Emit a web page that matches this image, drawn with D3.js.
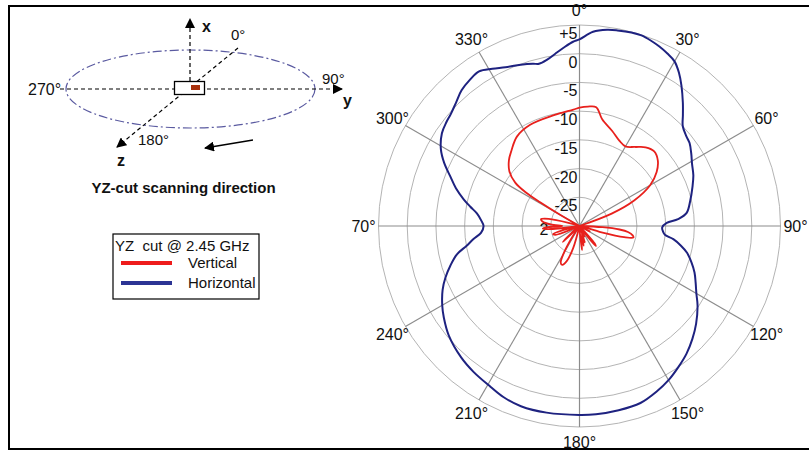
<!DOCTYPE html>
<html>
<head>
<meta charset="utf-8">
<script src="https://cdn.jsdelivr.net/npm/d3@7/dist/d3.min.js"></script>
<style>
  html, body { margin: 0; padding: 0; background: #fff; }
  svg { display: block; font-family: "Liberation Sans", Arial, sans-serif; }
</style>
</head>
<body>
<svg id="chart" width="809" height="451"></svg>
<script>
// ---- Radiation pattern, YZ cut @ 2.45 GHz (gain in dB vs. angle in degrees) ----
const horizontalAngles = [0, 4, 8, 11, 15, 18, 21, 24, 27, 30, 33, 36, 40, 43, 46, 50, 53, 57, 61, 66, 71, 77, 83, 86, 88, 91, 94, 96, 98, 101, 104, 108, 112, 116, 120, 124, 130, 135, 140, 145, 150, 155, 161, 168, 175, 180, 190, 198, 204, 209, 216, 222, 230, 236, 240, 245, 249, 253, 257, 260, 263, 266, 270, 273, 277, 280, 283, 287, 291, 295, 299, 304, 308, 311, 315, 319, 323, 327, 331, 335, 340, 344, 346, 349, 352, 355, 358];
const horizontalValues = [2.5, 3.9, 4.5, 4.7, 4.9, 4.9, 4.6, 4.2, 3.7, 3.1, 1.8, 0.2, -2.0, -3.6, -5.0, -5.7, -6.0, -6.8, -7.6, -8.3, -9.2, -10.2, -11.2, -12.8, -14.8, -15.6, -15.4, -15.0, -13.5, -12.0, -10.7, -9.5, -8.4, -7.5, -6.5, -5.2, -3.5, -2.2, -1.0, 0.0, 1.0, 1.8, 2.6, 2.8, 2.9, 2.9, 3.0, 3.0, 2.6, 2.0, 1.4, 0.8, -0.3, -1.5, -2.4, -3.7, -5.0, -6.5, -8.1, -10.0, -11.4, -12.8, -13.3, -12.9, -12.0, -10.7, -9.3, -7.5, -5.9, -4.0, -2.4, -1.1, -0.6, -0.3, 0.4, 1.3, 1.8, 2.1, 1.3, 0.5, -0.1, -0.6, -0.9, -0.5, 0.3, 1.2, 2.1];

const verticalAngles = [298, 300, 301, 302, 304, 308, 313, 318, 325, 334, 347, 357, 360, 364, 368, 372, 379, 385, 390, 395, 400, 405, 410, 415, 420, 425, 429, 432,
  450, 453, 455, 457, 460, 462, 464, 466, 468, 478, 480, 496, 499, 501, 503, 505, 510, 515, 518, 522, 525, 528, 531, 534, 537, 540,
  550, 556, 560, 564, 567, 570, 573, 576, 582, 586, 589, 592, 605, 610, 613, 616, 618, 622, 624, 626, 628, 630, 633, 637, 640, 643, 646, 649, 658];
const verticalValues = [-30, -26, -22, -19, -16.5, -14.5, -13.2, -12.3, -11.0, -10.4, -10.2, -9.7, -9.4, -9.15, -9.1, -11.0, -12.5, -13.6, -14.0, -13.2, -12.1, -11.6, -12.2, -13.6, -15.8, -19.5, -24, -30,
  -30, -26, -23, -21.5, -20.6, -20.4, -22, -26, -30, -28, -30, -30, -26, -25.5, -28, -30, -30, -28, -29.5, -27, -28.5, -26.5, -28, -25.8, -29, -30,
  -30, -26, -23.5, -22.6, -22.8, -24.5, -27.5, -30, -30, -26, -28, -30, -30, -25.5, -25.2, -27, -30, -30, -25, -23.6, -24.5, -27, -25, -23.5, -23.2, -24.5, -28, -30, -30];

const ringValues = [-25, -20, -15, -10, -5, 0, 5];
const ringLabels = ["-25", "-20", "-15", "-10", "-5", "0", "+5"];
const spokeAngles = [0, 30, 60, 90, 120, 150, 180, 210, 240, 270, 300, 330];
const spokeLabels = ["0°", "30°", "60°", "90°", "120°", "150°", "180°", "210°", "240°", "70°", "300°", "330°"];

const legendTitle = "YZ  cut @ 2.45 GHz";
const seriesNames = ["Vertical", "Horizontal"];
const seriesColors = ["#e8201c", "#1e2280"];

const svg = d3.select("#chart");

// ---- frame ----
svg.append("rect").attr("x", 9).attr("y", 6).attr("width", 812).attr("height", 443)
  .attr("fill", "none").attr("stroke", "#000").attr("stroke-width", 2);

// ---- polar plot ----
const cx = 579.5, cy = 226, R = 201;
const r = d3.scaleLinear().domain([-30, 5]).range([0, R]);
const a = d3.scaleLinear().domain([0, 360]).range([0, 2 * Math.PI]);
const polar = svg.append("g").attr("transform", `translate(${cx},${cy})`);

polar.selectAll("circle.ring").data(ringValues).join("circle")
  .attr("class", "ring").attr("r", d => r(d))
  .attr("fill", "none").attr("stroke", "#b4b4b4").attr("stroke-width", 1);

polar.selectAll("line.spoke").data(spokeAngles).join("line")
  .attr("class", "spoke")
  .attr("x1", 0).attr("y1", 0)
  .attr("x2", d => R * Math.sin(a(d))).attr("y2", d => -R * Math.cos(a(d)))
  .attr("stroke", "#8c8c8c").attr("stroke-width", 1.2);

polar.selectAll("text.ring-label").data(ringValues).join("text")
  .attr("class", "ring-label")
  .attr("x", -2).attr("y", d => -r(d) + 14)
  .attr("text-anchor", "end").attr("font-size", 16).attr("fill", "#111")
  .text((d, i) => ringLabels[i]);

polar.append("text").attr("x", -40).attr("y", 9).attr("font-size", 16)
  .attr("fill", "#111").text("2");

const labelR = 216;
polar.selectAll("text.angle-label").data(spokeAngles).join("text")
  .attr("class", "angle-label")
  .attr("x", d => labelR * Math.sin(a(d)))
  .attr("y", d => -labelR * Math.cos(a(d)))
  .attr("dy", "0.36em")
  .attr("text-anchor", "middle").attr("font-size", 16).attr("fill", "#111")
  .text((d, i) => spokeLabels[i]);

const radial = d3.lineRadial()
  .angle(d => a(d[0]))
  .radius(d => r(Math.max(d[1], -30)));

const vertical = verticalAngles.map((d, i) => [d, verticalValues[i]]);
const horizontal = horizontalAngles.map((d, i) => [d, horizontalValues[i]]);

polar.append("path")
  .attr("d", radial.curve(d3.curveCatmullRomClosed.alpha(0.5))(horizontal))
  .attr("fill", "none").attr("stroke", seriesColors[1]).attr("stroke-width", 2);

polar.append("path")
  .attr("d", radial.curve(d3.curveCatmullRomClosed.alpha(0.5))(vertical))
  .attr("fill", "none").attr("stroke", seriesColors[0]).attr("stroke-width", 1.8)
  .attr("stroke-linejoin", "round");

// ---- legend ----
const legend = svg.append("g");
legend.append("rect").attr("x", 113).attr("y", 234).attr("width", 146).attr("height", 65)
  .attr("fill", "#fff").attr("stroke", "#000").attr("stroke-width", 1.2);
legend.append("text").attr("x", 115).attr("y", 251).attr("font-size", 15)
  .style("white-space", "pre").attr("fill", "#111").text(legendTitle);
seriesNames.forEach((name, i) => {
  const y = 263 + i * 20;
  legend.append("line").attr("x1", 121).attr("x2", 172).attr("y1", y).attr("y2", y)
    .attr("stroke", i === 0 ? "#ee1c1c" : "#2c3494").attr("stroke-width", 4);
  legend.append("text").attr("x", 188).attr("y", y + 5).attr("font-size", 15)
    .attr("fill", "#111").text(name);
});

// ---- coordinate sketch: scanning direction ----
const sk = svg.append("g");
const defs = svg.append("defs");
defs.append("marker").attr("id", "tri").attr("viewBox", "0 0 10 10")
  .attr("refX", 9).attr("refY", 5).attr("markerWidth", 10).attr("markerHeight", 10)
  .attr("markerUnits", "userSpaceOnUse").attr("orient", "auto")
  .append("path").attr("d", "M0,0 L10,5 L0,10 Z").attr("fill", "#000");

sk.append("ellipse").attr("cx", 190.5).attr("cy", 89).attr("rx", 124.5).attr("ry", 39)
  .attr("fill", "none").attr("stroke", "#5a5aa0").attr("stroke-width", 1.2)
  .attr("stroke-dasharray", "9,3,2,3");

const dashed = (x1, y1, x2, y2) => sk.append("line")
  .attr("x1", x1).attr("y1", y1).attr("x2", x2).attr("y2", y2)
  .attr("stroke", "#000").attr("stroke-width", 1.2).attr("stroke-dasharray", "4,3")
  .attr("marker-end", "url(#tri)");
dashed(190, 81, 190, 19);
dashed(60, 89, 342, 89);
dashed(238, 48, 117, 147);

sk.append("rect").attr("x", 174.5).attr("y", 81.5).attr("width", 30).attr("height", 13)
  .attr("fill", "#fff").attr("stroke", "#000").attr("stroke-width", 1.3);
sk.append("rect").attr("x", 191).attr("y", 85).attr("width", 9).attr("height", 5)
  .attr("fill", "#a8300c");

sk.append("line").attr("x1", 253).attr("y1", 140).attr("x2", 205).attr("y2", 148)
  .attr("stroke", "#000").attr("stroke-width", 1.3).attr("marker-end", "url(#tri)");

const skText = (x, y, t, size, bold, anchor) => sk.append("text")
  .attr("x", x).attr("y", y).attr("font-size", size)
  .attr("font-weight", bold ? "bold" : "normal")
  .attr("text-anchor", anchor || "start").attr("fill", "#111").text(t);
skText(202, 32, "x", 16, true);
skText(343, 106, "y", 16, true);
skText(117, 166, "z", 16, true);
skText(231, 40, "0°", 15, false);
skText(322, 84, "90°", 15, false);
skText(28, 95, "270°", 16, false);
skText(138, 145, "180°", 15, false);
skText(183.5, 193, "YZ-cut scanning direction", 15, true, "middle");
</script>
</body>
</html>
